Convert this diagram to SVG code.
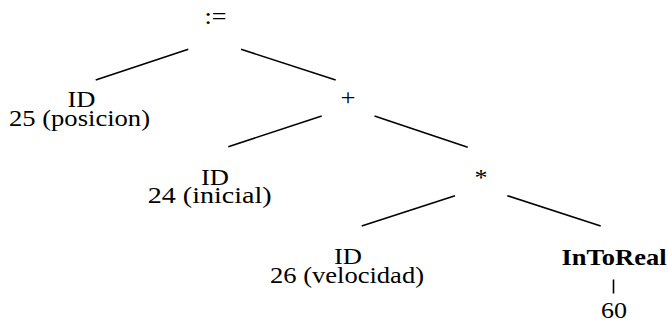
<svg xmlns="http://www.w3.org/2000/svg" width="668" height="322" viewBox="0 0 668 322">
<style>
text{font-family:'Liberation Serif','Times New Roman',serif;font-size:23px;fill:#000;text-anchor:middle}
.b{font-weight:bold}
.e{stroke:#000;stroke-width:1.6;fill:none}
</style>
<rect width="668" height="322" fill="#fff"/>
<g id="connectors">
<line class="e" x1="188.3" y1="49.3" x2="95.7" y2="80"/>
<line class="e" x1="241" y1="49.3" x2="335.7" y2="80"/>
<line class="e" x1="321.7" y1="116" x2="228.3" y2="146.7"/>
<line class="e" x1="374.5" y1="116" x2="467.7" y2="147.3"/>
<line class="e" x1="455" y1="195.7" x2="361.7" y2="226"/>
<line class="e" x1="507.3" y1="195.7" x2="600.7" y2="226"/>
<line class="e" x1="613.5" y1="279.5" x2="613.5" y2="293.5" stroke-width="2.4"/>
</g>
<g id="assign"><text x="215.5" y="24" textLength="22" lengthAdjust="spacingAndGlyphs">:=</text></g>
<g id="id-posicion">
<text x="81.5" y="106.5" textLength="28" lengthAdjust="spacingAndGlyphs">ID</text>
<text x="79.5" y="126" textLength="141" lengthAdjust="spacingAndGlyphs">25 (posicion)</text>
</g>
<g id="plus"><text x="348" y="105" textLength="15" lengthAdjust="spacingAndGlyphs">+</text></g>
<g id="id-inicial">
<text x="215" y="184.5" textLength="28" lengthAdjust="spacingAndGlyphs">ID</text>
<text x="209.7" y="202.5" textLength="124" lengthAdjust="spacingAndGlyphs">24 (inicial)</text>
</g>
<g id="times"><text x="481" y="185" textLength="13" lengthAdjust="spacingAndGlyphs">*</text></g>
<g id="id-velocidad">
<text x="348" y="264" textLength="28" lengthAdjust="spacingAndGlyphs">ID</text>
<text x="347" y="283" textLength="154" lengthAdjust="spacingAndGlyphs">26 (velocidad)</text>
</g>
<g id="intoreal"><text class="b" x="614" y="265" textLength="105" lengthAdjust="spacingAndGlyphs">InToReal</text></g>
<g id="num60"><text x="614" y="318" textLength="26" lengthAdjust="spacingAndGlyphs">60</text></g>
</svg>
